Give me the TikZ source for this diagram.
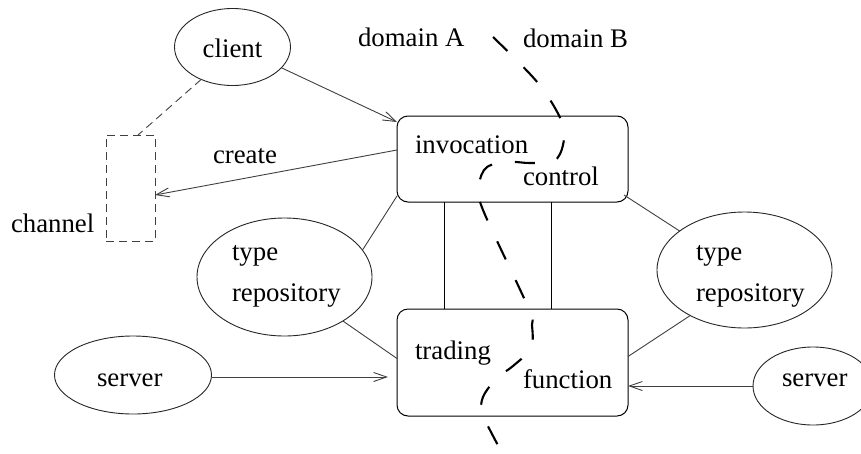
\documentclass[tikz,border=0pt]{standalone}
\usepackage{fontspec}
\setmainfont{Liberation Serif}
\usetikzlibrary{shapes.geometric,arrows.meta,calc}
\begin{document}
\begin{tikzpicture}[x=1pt,y=-1pt,
  every node/.style={outer sep=0pt},
  txt/.style={inner sep=0pt, font=\fontsize{26.8}{30}\selectfont, anchor=base west},
  oval/.style={draw=black!85, ellipse, line width=0.9pt, inner sep=0pt},
  box/.style={draw, rounded corners=11pt, line width=1pt, inner sep=0pt},
  conn/.style={line width=0.9pt, draw=black!75},
  arr/.style={conn, -{Straight Barb[length=13pt,width=9pt]}},
  thindash/.style={conn, dash pattern=on 8pt off 5pt},
  domainline/.style={line width=2.1pt, dash pattern=on 20pt off 23pt}]
\useasboundingbox (0,0) rectangle (861,453);
\fill[white] (0,0) rectangle (861,453);

% shapes
\node[oval, minimum width=116pt, minimum height=77pt] (client) at (232.5,47) {};
\node[draw=black!75, line width=0.9pt, dash pattern=on 8pt off 5pt, minimum width=49pt, minimum height=106pt, inner sep=0pt] (chan) at (130.5,188) {};
\node[oval, minimum width=157pt, minimum height=78pt] (serverL) at (133,375) {};
\node[oval, minimum width=175pt, minimum height=118pt] (trepL) at (284.5,277) {};
\node[oval, minimum width=175pt, minimum height=116pt] (trepR) at (744.5,270) {};
\node[oval, minimum width=120pt, minimum height=78pt] (serverR) at (813,386) {};
\node[box, minimum width=231pt, minimum height=86pt] (inv) at (512.5,159) {};
\node[box, minimum width=231pt, minimum height=107pt] (trad) at (512.5,362.5) {};

% texts
\node[txt, anchor=base] (t-client) at (232.5,57) {client};
\node[txt] (t-domA) at (358,46) {domain A};
\node[txt] (t-domB) at (523,47) {domain B};
\node[txt] (t-create) at (213,163) {create};
\node[txt] (t-chan) at (11,232) {channel};
\node[txt] (t-inv) at (415,153) {invocation};
\node[txt] (t-ctrl) at (523,185) {control};
\node[txt] (t-typeL) at (232,260) {type};
\node[txt] (t-repoL) at (232,301) {repository};
\node[txt] (t-typeR) at (696,260) {type};
\node[txt] (t-repoR) at (696,301) {repository};
\node[txt] (t-servL) at (97,386) {server};
\node[txt] (t-servR) at (782,386) {server};
\node[txt] (t-trad) at (415,359) {trading};
\node[txt] (t-func) at (523,388) {function};

% connectors
\draw[arr] (client.-23) -- ($(inv.north west)+(0,6)$);
\draw[arr] ($(inv.west)+(0,-9)$) -- ($(chan.east)+(0,7)$);
\draw[thindash] (client.-134) -- ($(chan.north)+(7.5,0)$);
\draw[thindash] ($(chan.south)+(-4.5,0)$) -- ($(chan.south)+(-4.5,0)$ |- serverL.north);
\draw[arr, shorten >=9pt] ($(serverL.east)+(0,2)$) -- ($(trad.west)+(0,14.5)$);
\draw[arr] (serverR.west) -- (serverR.west -| trad.east);
\draw[conn] ($(inv.south west)+(0,-6)$) -- (trepL.19.5);
\draw[conn] (trepL.-37.5) -- ($(trad.west)+(0,-4)$);
\draw[conn] ($(inv.south east)+(-4,-7)$) -- (trepR.149.4);
\draw[conn] (trepR.220.5) -- ($(trad.east)+(0,-6)$);
\draw[line width=1pt] ($(inv.south west)+(47,0)$) -- ($(trad.north west)+(47,0)$);
\draw[line width=1pt] ($(inv.south west)+(154,0)$) -- ($(trad.north west)+(154,0)$);

% domain boundary
\draw[domainline] plot[smooth, tension=0.55] coordinates {
  (493,37) (538,83) (562,122) (563,145) (554,161) (530,163) (510,162)
  (487,167) (479,185) (483,210) (528,307) (532,325) (531,348) (513,366)
  (497,378) (483,397) (483,415) (502,453) (506,462)};
\end{tikzpicture}
\end{document}
